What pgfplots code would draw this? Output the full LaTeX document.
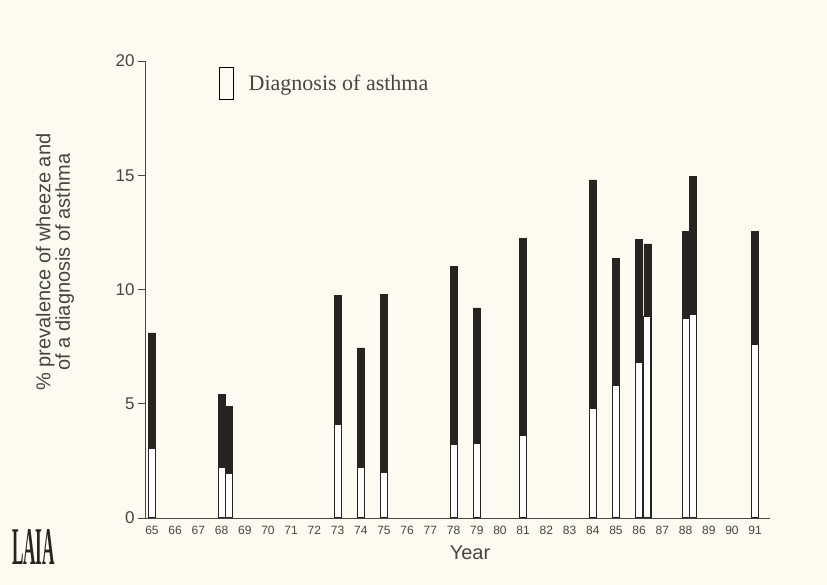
\documentclass[border=0pt]{standalone}
\usepackage{fontspec}
\setmainfont{Liberation Sans}
\newfontfamily\serif{Liberation Serif}
\usepackage{graphicx}
\usepackage{pgfplots}
\pgfplotsset{compat=1.18}

\definecolor{paper}{RGB}{252,250,241}
\definecolor{ink}{RGB}{38,35,32}

% year, % wheeze (bar top), % diagnosis of asthma (open part)
% second surveys in the same year sit a little to the right
\pgfplotstableread{
year   wheeze  diag
65     8.1     3.05
68     5.4     2.2
68.3   4.9     1.95
73     9.75    4.1
74     7.45    2.2
75     9.8     2.0
78     11.0    3.2
79     9.2     3.25
81     12.25   3.6
84     14.8    4.8
85     11.35   5.8
86     12.2    6.8
86.35  12.0    8.8
88     12.55   8.75
88.3   14.95   8.9
91     12.55   7.6
}\surveys

\begin{document}
\begin{tikzpicture}
\path[use as bounding box, fill=paper] (0,0) rectangle (827pt,585pt);
\begin{axis}[
  at={(145pt,67pt)}, anchor=south west,
  width=625pt, height=457pt, scale only axis,
  xmin=64.7, xmax=91.64, ymin=0, ymax=20,
  axis x line=bottom, axis y line=left,
  axis line style={-, ink!85, line width=0.9pt},
  ybar, bar width=7pt,
  xtick={65,...,91}, ytick={0,5,10,15,20},
  major x tick style={draw=none},
  major y tick style={ink!85, line width=0.9pt},
  tick align=outside, major tick length=7pt,
  /pgf/number format/assume math mode=true,
  xticklabel style={font=\fontsize{12}{12}\selectfont, text=ink!85, yshift=2pt},
  yticklabel style={font=\fontsize{17}{17}\selectfont, text=ink!85},
  xlabel={Year},
  xlabel style={font=\fontsize{20}{20}\selectfont, text=ink!85,
    at={(axis description cs:0.52,-0.077)}, anchor=center},
  ylabel={\% prevalence of wheeze and\\of a diagnosis of asthma},
  ylabel style={font=\fontsize{20}{15}\selectfont, text=ink!85, align=center,
    at={(axis description cs:-0.144,0.56)}, anchor=center},
  legend style={at={(axis description cs:0.1184,0.9497)}, anchor=west,
    draw=none, fill=none, inner sep=0pt,
    font=\serif\fontsize{22}{22}\selectfont, text=ink!85},
  legend image code/.code={%
    \draw[black, line width=1pt, fill=none] (0pt,-16pt) rectangle (14pt,16pt);
    \path[draw=none, fill=none] (0pt,0pt) -- (27pt,0pt);},
]
\addplot[bar shift=0pt, fill=ink, draw=ink, line width=0.5pt, forget plot]
  table[x=year, y=wheeze] {\surveys};
\addplot[bar shift=0pt, fill=white, draw=ink, line width=1pt]
  table[x=year, y=diag] {\surveys};
\addlegendentry{Diagnosis of asthma}
\end{axis}
\node[text=ink] at (33.5pt,37.5pt) {\resizebox{43pt}{35pt}{\serif\bfseries LAIA}};
\end{tikzpicture}
\end{document}
